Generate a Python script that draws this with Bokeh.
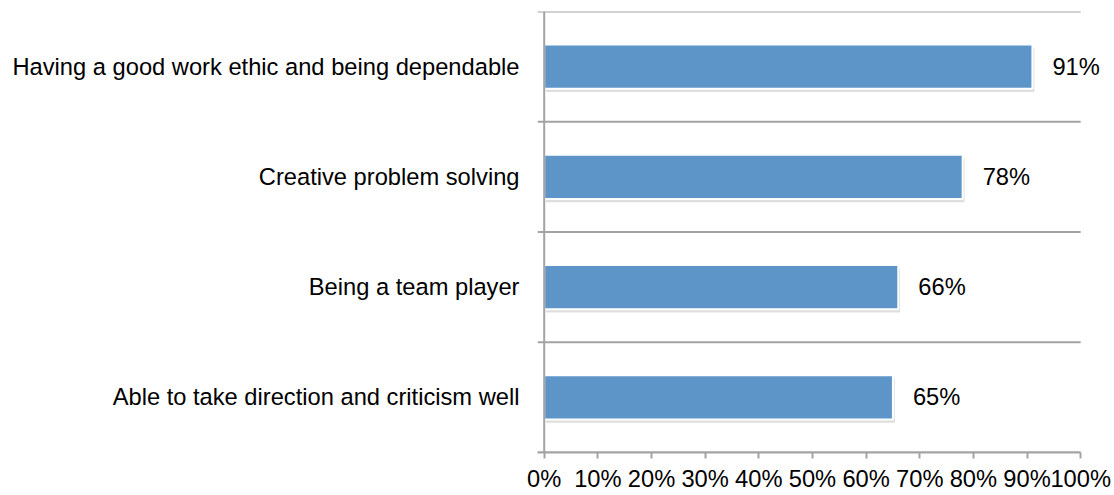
from bokeh.plotting import figure
from bokeh.models import ColumnDataSource, FixedTicker, Span, LabelSet
from bokeh.core.properties import value
from bokeh.embed import file_html
from bokeh.resources import INLINE

categories = [
    "Having a good work ethic and being dependable",
    "Creative problem solving",
    "Being a team player",
    "Able to take direction and criticism well",
]
values = [91, 78, 66, 65]
value_labels = ["91%", "78%", "66%", "65%"]
x_ticks = [0, 10, 20, 30, 40, 50, 60, 70, 80, 90, 100]
x_tick_labels = ["0%", "10%", "20%", "30%", "40%", "50%", "60%", "70%", "80%", "90%", "100%"]

n = len(categories)
ypos = [n - i - 0.5 for i in range(n)]
boundaries = [float(i) for i in range(n + 1)]

X_MIN, X_MAX, X_VIEW_MAX = -1.25, 100, 106.3

FONT = "Liberation Sans"
FS = "23.7px"
GRAY = "#A3A3A3"
BAR = "#5D95C9"

src = ColumnDataSource(dict(
    y=ypos, v=values, lab=value_labels,
    sy=[y - 0.03 for y in ypos], sv=[v + 0.35 for v in values],
))

p = figure(width=1114, height=495, x_range=(X_MIN, X_VIEW_MAX), y_range=(0, n),
           output_backend="svg", toolbar_location=None,
           min_border_left=537, min_border_right=0, min_border_top=11, min_border_bottom=43)
p.outline_line_color = None
p.background_fill_color = "white"
p.xgrid.visible = False
p.ygrid.visible = False

# horizontal lines at category boundaries (they double as the y-axis ticks)
p.segment(x0=X_MIN, x1=X_MAX, y0=boundaries, y1=boundaries,
          line_color=GRAY, line_width=2)

# vertical axis line
p.add_layout(Span(location=0, dimension="height", line_color=GRAY, line_width=2))

# shadow
p.hbar(y="sy", left=0.3, right="sv", height=0.4, source=src,
       fill_color="black", fill_alpha=0.13, line_color=None)
# bars
p.hbar(y="y", left=0, right="v", height=0.4, source=src,
       fill_color=BAR, line_color="white", line_width=2)

# value labels
labels = LabelSet(x="v", y="y", text="lab", source=src, x_offset=20,
                  text_baseline="middle", text_align="left",
                  text_font=value(FONT), text_font_size=FS, text_color="black")
p.add_layout(labels)

# y axis: category labels
ya = p.yaxis[0]
ya.ticker = FixedTicker(ticks=ypos)
ya.major_label_overrides = {y: c for y, c in zip(ypos, categories)}
ya.axis_line_color = None
ya.major_tick_line_color = None
ya.minor_tick_line_color = None
ya.major_label_standoff = 12
ya.major_label_text_font = FONT
ya.major_label_text_font_size = FS
ya.major_label_text_color = "black"

# x axis
xa = p.xaxis[0]
xa.bounds = (X_MIN, X_MAX)
xa.ticker = FixedTicker(ticks=x_ticks)
xa.major_label_overrides = {t: l for t, l in zip(x_ticks, x_tick_labels)}
xa.axis_line_color = GRAY
xa.axis_line_width = 2
xa.major_tick_line_color = GRAY
xa.major_tick_line_width = 2
xa.major_tick_in = 0
xa.major_tick_out = 6
xa.minor_tick_line_color = None
xa.major_label_standoff = 7
xa.major_label_text_font = FONT
xa.major_label_text_font_size = FS
xa.major_label_text_color = "black"

open("out.html", "w").write(file_html(p, INLINE))
